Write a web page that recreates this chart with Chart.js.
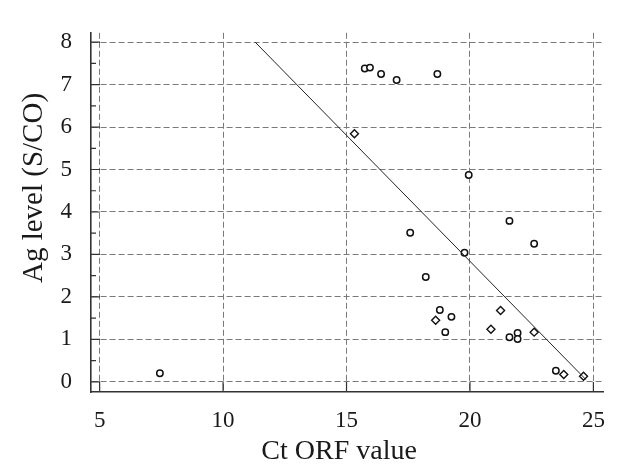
<!DOCTYPE html>
<html>
<head>
<meta charset="utf-8">
<script src="https://cdn.jsdelivr.net/npm/chart.js@4.4.1/dist/chart.umd.min.js"></script>
<style>
  html, body { margin: 0; padding: 0; background: #fff; }
  #wrap { width: 620px; height: 471px; }
</style>
</head>
<body>
<div id="wrap"><canvas id="grafico" width="620" height="471"></canvas></div>
<script>
// =======================
// Datos
// =======================
const circleX = [7.44, 15.74, 15.95, 16.4, 17.03, 18.68, 19.95, 21.6, 17.58, 22.6, 19.78, 18.21, 18.78, 19.25, 19.0, 21.6, 21.93, 21.93, 23.48];
const circleY = [0.2, 7.38, 7.4, 7.25, 7.11, 7.25, 4.87, 3.79, 3.51, 3.25, 3.04, 2.47, 1.69, 1.53, 1.17, 1.05, 1.15, 1.01, 0.26];

const diamondX = [15.32, 18.61, 21.24, 20.85, 22.6, 23.8, 24.6];
const diamondY = [5.84, 1.45, 1.68, 1.24, 1.17, 0.17, 0.13];

// recta de regresion (extremos)
const fitX = [11.3, 24.7];
const fitY = [8.0, 0.05];

const xTicks = [5, 10, 15, 20, 25];
const yTicks = [0, 1, 2, 3, 4, 5, 6, 7, 8];

const xTitle = 'Ct ORF value';
const yTitle = 'Ag level (S/CO)';

const toPoints = (xs, ys) => xs.map((x, i) => ({ x: x, y: ys[i] }));

const fuente = '"Liberation Serif", "Times New Roman", serif';

// =======================
// Marcas hacia dentro y titulos de ejes
// =======================
const ejesExtra = {
  id: 'ejesExtra',
  afterDraw(chart) {
    const ctx = chart.ctx;
    const area = chart.chartArea;
    const sx = chart.scales.x;
    const sy = chart.scales.y;

    ctx.save();
    ctx.strokeStyle = '#333';
    ctx.lineWidth = 1.2;
    ctx.beginPath();
    for (let i = 0; i < yTicks.length; i++) {
      const py = sy.getPixelForValue(yTicks[i]);
      ctx.moveTo(area.left, py);
      ctx.lineTo(area.left + 9, py);
      if (i < yTicks.length - 1) {
        const pm = sy.getPixelForValue((yTicks[i] + yTicks[i + 1]) / 2);
        ctx.moveTo(area.left, pm);
        ctx.lineTo(area.left + 5, pm);
      }
    }
    xTicks.forEach(v => {
      const px = sx.getPixelForValue(v);
      ctx.moveTo(px, area.bottom);
      ctx.lineTo(px, area.bottom - 10);
    });
    ctx.stroke();

    ctx.fillStyle = '#1a1a1a';
    ctx.font = '28px ' + fuente;
    ctx.textAlign = 'center';
    ctx.textBaseline = 'middle';
    ctx.fillText(xTitle, (area.left + area.right) / 2 - 8, 452);
    ctx.font = '29px ' + fuente;
    ctx.translate(34, 188);
    ctx.rotate(-Math.PI / 2);
    ctx.fillText(yTitle, 0, 0);
    ctx.restore();
  }
};

const ctx = document.getElementById('grafico').getContext('2d');
const grafico = new Chart(ctx, {
  type: 'scatter',
  data: {
    datasets: [
      {
        label: 'fit',
        type: 'line',
        data: toPoints(fitX, fitY),
        borderColor: '#222',
        borderWidth: 1,
        pointRadius: 0,
        fill: false
      },
      {
        label: 'circles',
        data: toPoints(circleX, circleY),
        pointStyle: 'circle',
        pointRadius: 3.2,
        borderColor: '#111',
        borderWidth: 1.5,
        backgroundColor: '#fff'
      },
      {
        label: 'diamonds',
        data: toPoints(diamondX, diamondY),
        pointStyle: 'rectRot',
        pointRadius: 4,
        borderColor: '#111',
        borderWidth: 1.4,
        backgroundColor: '#fff'
      }
    ]
  },
  options: {
    responsive: false,
    animation: false,
    devicePixelRatio: 1,
    layout: { padding: { top: 17, right: 3, left: 0, bottom: 0 } },
    plugins: { legend: { display: false }, tooltip: { enabled: false } },
    scales: {
      x: {
        type: 'linear',
        min: 4.65,
        max: 25.4,
        afterBuildTicks: s => { s.ticks = xTicks.map(v => ({ value: v })); },
        afterFit: s => { s.height = 79; },
        grid: { color: '#7a7a7a', lineWidth: 1, drawTicks: false },
        border: { display: true, color: '#333', width: 1.6, dash: [6, 3] },
        ticks: { color: '#1a1a1a', padding: 15, maxRotation: 0, font: { family: fuente, size: 23 } }
      },
      y: {
        type: 'linear',
        min: -0.24,
        max: 8.22,
        afterBuildTicks: s => { s.ticks = yTicks.map(v => ({ value: v })); },
        afterFit: s => { s.width = 91; },
        grid: { color: '#7a7a7a', lineWidth: 1, drawTicks: false },
        border: { display: true, color: '#333', width: 1.6, dash: [6, 3] },
        ticks: { color: '#1a1a1a', padding: 19, font: { family: fuente, size: 23 } }
      }
    }
  },
  plugins: [ejesExtra]
});
</script>
</body>
</html>
